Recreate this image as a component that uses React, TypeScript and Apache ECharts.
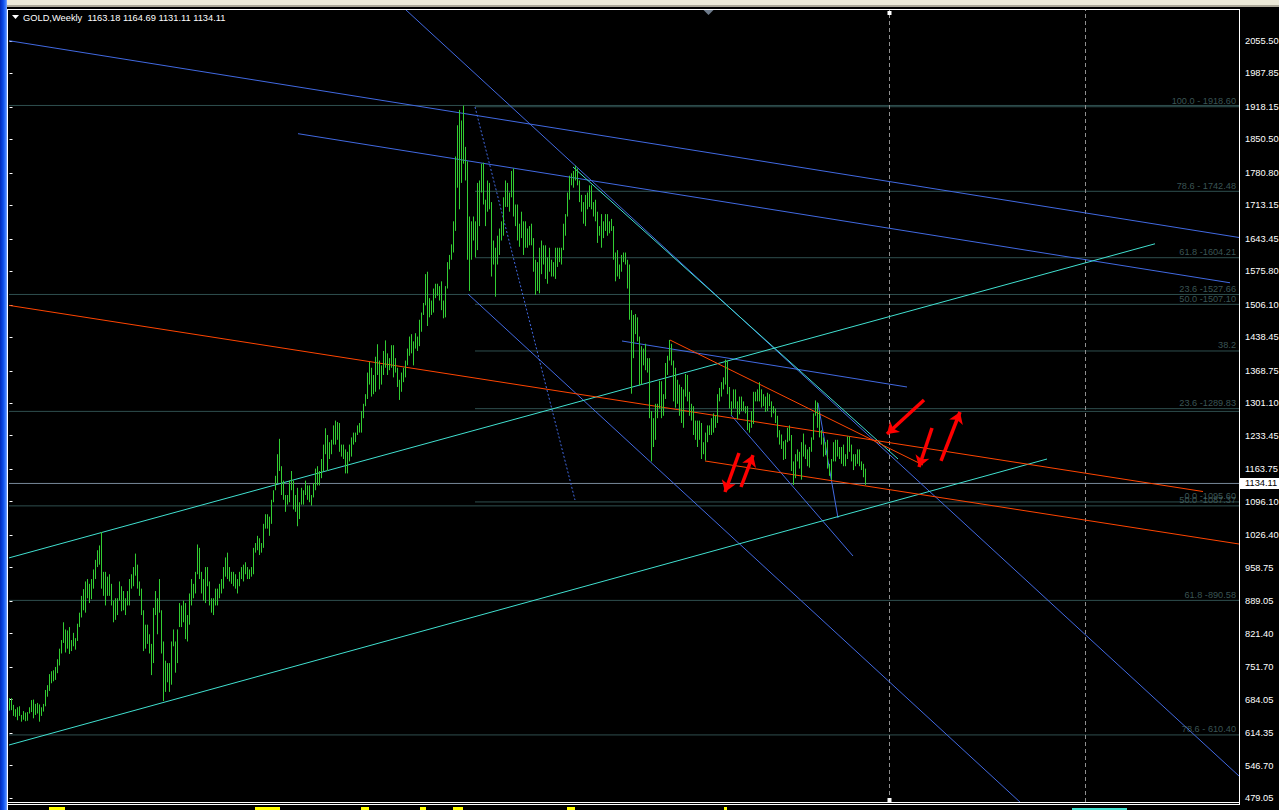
import React, { useEffect, useRef } from "react";
import * as echarts from "echarts";

// GOLD weekly bars: index 0 = week of 2007-04-30 ... index 428 = week of 2015-07-13
const highs: number[] = [
  687, 687, 673, 664, 668, 670, 652, 660, 657, 658, 668, 683, 684, 675, 677, 674, 668, 675, 704, 714, 737, 743, 745, 752, 768, 790, 808, 845, 830, 828, 835, 808, 823, 812, 842,
  865, 900, 914, 930, 935, 925, 935, 955, 975, 995, 1005, 1033, 950, 950, 940, 945, 925, 890, 895, 895, 930, 920, 910, 895, 910, 935, 945, 960, 988, 965, 930, 915, 870, 840, 840, 820, 800, 875, 910, 895, 935, 870, 805, 765, 760, 760, 805, 830, 805, 830, 885, 880, 890,
  885, 860, 905, 935, 925, 950, 1007, 1000, 950, 935, 960, 960, 930, 895, 895, 915, 915, 925, 935, 960, 980, 990, 960, 950, 950, 945, 935, 950, 960, 965, 970, 960, 955, 960, 1000, 1010, 1025, 1020, 1010, 1050, 1070, 1070, 1065, 1100, 1120, 1150, 1195, 1227, 1170, 1140, 1110, 1110,
  1140, 1160, 1140, 1110, 1125, 1095, 1125, 1120, 1140, 1130, 1130, 1110, 1135, 1165, 1170, 1160, 1185, 1215, 1249, 1235, 1220, 1225, 1255, 1265, 1262, 1260, 1215, 1215, 1205, 1200, 1215, 1230, 1240, 1240, 1255, 1260, 1285, 1300, 1320, 1365, 1387, 1375, 1360, 1398, 1424, 1390, 1380, 1410, 1432, 1405, 1395, 1422,
  1422, 1395, 1375, 1350, 1365, 1375, 1390, 1415, 1440, 1445, 1430, 1447, 1440, 1475, 1490, 1510, 1570, 1575, 1520, 1515, 1540, 1550, 1550, 1545, 1555, 1515, 1545, 1595, 1610, 1632, 1680, 1815, 1880, 1912, 1890, 1921, 1835, 1805, 1690, 1680, 1690, 1680, 1760, 1765, 1800, 1802, 1725, 1765, 1760, 1720, 1640, 1625,
  1650, 1665, 1680, 1730, 1765, 1760, 1740, 1785, 1790, 1715, 1715, 1675, 1700, 1680, 1680, 1665, 1670, 1675, 1645, 1600, 1595, 1625, 1640, 1630, 1630, 1605, 1625, 1600, 1595, 1625, 1625, 1625, 1625, 1675, 1695, 1740, 1775, 1780, 1785, 1796, 1790, 1765, 1735, 1720, 1735, 1740, 1755, 1755, 1720, 1725, 1700, 1670,
  1695, 1680, 1695, 1695, 1680, 1685, 1670, 1615, 1620, 1590, 1610, 1615, 1615, 1600, 1590, 1495, 1485, 1487, 1480, 1440, 1420, 1415, 1425, 1395, 1395, 1285, 1270, 1300, 1300, 1348, 1347, 1320, 1385, 1400, 1433, 1425, 1390, 1375, 1350, 1340, 1335, 1330, 1362, 1360, 1325, 1300, 1295, 1265, 1265, 1265, 1260, 1220,
  1240, 1255, 1255, 1270, 1280, 1275, 1320, 1333, 1345, 1355, 1392, 1390, 1335, 1305, 1330, 1330, 1305, 1315, 1315, 1305, 1295, 1295, 1260, 1285, 1325, 1325, 1330, 1345, 1330, 1320, 1315, 1323, 1320, 1305, 1295, 1290, 1275, 1245, 1236, 1222, 1225, 1250, 1255, 1235, 1180, 1195, 1205, 1200, 1220, 1238, 1215, 1205, 1210,
  1230, 1280, 1307, 1303, 1285, 1245, 1230, 1220, 1225, 1175, 1185, 1220, 1225, 1225, 1210, 1210, 1215, 1195, 1232, 1232, 1215, 1195, 1195, 1205, 1205, 1180, 1175, 1165,
];
const lows: number[] = [
  661, 662, 650, 648, 641, 650, 638, 642, 639, 640, 655, 658, 645, 652, 655, 638, 650, 659, 670, 690, 702, 718, 722, 725, 739, 755, 780, 802, 782, 790, 779, 785, 795, 788, 806,
  835, 855, 870, 865, 895, 885, 893, 915, 935, 960, 965, 915, 900, 880, 900, 900, 880, 845, 850, 860, 890, 868, 870, 860, 880, 880, 915, 920, 942, 915, 900, 860, 785, 790, 800, 780, 735, 760, 860, 820, 865, 780, 681, 700, 720, 700, 715, 795, 740, 760, 835, 835, 845,
  810, 805, 840, 880, 895, 905, 945, 935, 905, 890, 885, 920, 880, 865, 860, 880, 880, 895, 905, 915, 940, 935, 930, 925, 920, 915, 905, 920, 935, 930, 945, 935, 935, 940, 945, 990, 995, 985, 990, 1000, 1040, 1040, 1025, 1050, 1095, 1120, 1135, 1160, 1110, 1100, 1075, 1090,
  1095, 1120, 1080, 1075, 1045, 1060, 1090, 1090, 1110, 1100, 1095, 1088, 1105, 1120, 1130, 1130, 1145, 1160, 1195, 1160, 1185, 1195, 1215, 1215, 1225, 1200, 1190, 1185, 1155, 1155, 1180, 1190, 1215, 1220, 1235, 1240, 1240, 1270, 1295, 1310, 1340, 1315, 1320, 1325, 1360, 1330, 1340, 1360, 1375, 1360, 1370, 1375,
  1355, 1365, 1335, 1308, 1325, 1345, 1355, 1380, 1400, 1405, 1380, 1415, 1410, 1420, 1450, 1485, 1505, 1462, 1480, 1485, 1490, 1520, 1525, 1515, 1495, 1478, 1480, 1540, 1580, 1600, 1615, 1660, 1750, 1705, 1760, 1800, 1765, 1600, 1535, 1600, 1640, 1605, 1620, 1670, 1740, 1715, 1670, 1700, 1705, 1565, 1590, 1523,
  1590, 1610, 1640, 1650, 1710, 1710, 1700, 1730, 1690, 1670, 1640, 1627, 1645, 1610, 1625, 1625, 1630, 1630, 1575, 1527, 1535, 1530, 1570, 1590, 1560, 1550, 1575, 1565, 1565, 1560, 1585, 1595, 1590, 1620, 1650, 1690, 1725, 1755, 1750, 1765, 1755, 1720, 1700, 1675, 1670, 1705, 1710, 1705, 1690, 1680, 1635, 1650,
  1625, 1645, 1660, 1650, 1655, 1660, 1600, 1555, 1565, 1560, 1575, 1595, 1590, 1540, 1475, 1321, 1395, 1445, 1430, 1338, 1340, 1380, 1370, 1365, 1270, 1180, 1210, 1225, 1270, 1290, 1270, 1275, 1310, 1360, 1390, 1380, 1305, 1292, 1300, 1275, 1260, 1250, 1315, 1305, 1275, 1265, 1235, 1225, 1210, 1225, 1185, 1195,
  1182, 1220, 1235, 1235, 1240, 1250, 1260, 1305, 1315, 1330, 1340, 1320, 1290, 1277, 1290, 1290, 1268, 1278, 1285, 1285, 1280, 1245, 1240, 1250, 1258, 1305, 1305, 1305, 1292, 1295, 1283, 1285, 1295, 1272, 1280, 1260, 1230, 1215, 1206, 1183, 1185, 1220, 1223, 1160, 1131, 1145, 1180, 1165, 1142, 1190, 1185, 1170, 1167,
  1200, 1225, 1275, 1250, 1230, 1215, 1190, 1193, 1165, 1150, 1142, 1180, 1180, 1190, 1185, 1175, 1170, 1170, 1185, 1200, 1180, 1162, 1170, 1175, 1170, 1162, 1147, 1131,
];

const lastBar = { open: 1163.18, high: 1164.69, low: 1131.11, close: 1134.11 };

const priceTicks = [
  2055.5, 1987.85, 1918.15, 1850.5, 1780.8, 1713.15, 1643.45, 1575.8, 1506.1, 1438.45, 1368.75, 1301.1,
  1233.45, 1163.75, 1096.1, 1026.4, 958.75, 889.05, 821.4, 751.7, 684.05, 614.35, 546.7, 479.05,
];

// Fibonacci set B (0.0 = 1095.60 .. 100.0 = 1918.60), drawn from its anchor bar to the right
const fibBPrices = [1095.6, 1289.83, 1409.99, 1507.1, 1604.21, 1742.48, 1918.6];
const fibBLabels = ["0.0 -1095.60", "23.6 -1289.83", "38.2", "50.0 -1507.10", "61.8 -1604.21", "78.6 - 1742.48", "100.0 - 1918.60"];
const fibBStart = 232.75;
// Fibonacci set A (full width)
const fibAPrices = [1921.25, 1527.66, 1284.17, 1087.37, 890.58, 610.4];
const fibALabels = ["", "23.6 -1527.66", "", "50.0 -1087.37", "61.8 -890.58", "78.6 - 610.40"];

// trend lines: [barIndex1, price1, barIndex2, price2]
const blueLines = [
  [-0.25, 2056.1, 614.75, 1646.3],
  [144.25, 1862.5, 610.25, 1552.0],
  [306.25, 1430.75, 448.75, 1334.95],
  [198.25, 2120.06, 614.75, 524.86],
  [229.25, 1528.6, 505.75, 468.6],
  [360.75, 1276.6, 421.75, 983.0],
  [404.25, 1301.6, 414.25, 1062.1],
];
const blueDotted = [[232.75, 1918.1, 282.75, 1099.6]];
const turquoiseLines = [
  [-0.25, 979.1, 572.75, 1633.2],
  [-0.25, 589.4, 518.75, 1185.0],
  [281.75, 1793.1, 444.25, 1185.0],
];
const orangeLines = [
  [-0.25, 1504.9, 596.75, 1117.3],
  [347.75, 1180.9, 614.75, 1008.0],
  [330.25, 1432.8, 456.75, 1172.5],
];
const redArrows = [
  [457.25, 1307.9, 438.75, 1237.1],
  [461.25, 1249.6, 454.75, 1168.4],
  [465.75, 1180.9, 475.25, 1282.9],
  [364.75, 1197.5, 357.75, 1116.3],
  [365.75, 1126.7, 371.75, 1193.3],
];
const verticalLines = [440, 538];

const X_MIN = -0.25;
const X_MAX = 614.75;
const Y_MAX = 2120.06;
const Y_MIN = 470.72;

const FONT = '"Liberation Sans", Arial, sans-serif';

function seg(r: number[], color: string, type: any = "solid", z = 2) {
  return {
    type: "line",
    data: [
      [r[0], r[1]],
      [r[2], r[3]],
    ],
    showSymbol: false,
    symbol: "none",
    silent: true,
    clip: true,
    z,
    lineStyle: { color, width: 1, type },
  };
}

export default function App() {
  const ref = useRef<HTMLDivElement>(null);
  useEffect(() => {
    const chart = echarts.init(ref.current!, null, { renderer: "svg", width: 1279, height: 810 });
    const series: any[] = [];

    fibAPrices.forEach((p) => series.push(seg([X_MIN, p, X_MAX, p], "#2F4F4F", "solid", 1)));
    fibBPrices.forEach((p) => series.push(seg([fibBStart, p, X_MAX, p], "#2F4F4F", "solid", 1)));
    series.push(seg([X_MIN, lastBar.close, X_MAX, lastBar.close], "#778899", "solid", 1));
    verticalLines.forEach((v) => series.push(seg([v, Y_MIN, v, Y_MAX], "#8F8F8F", [4, 3], 1)));

    const labelItems: any[] = [];
    fibAPrices.forEach((p, i) => {
      if (fibALabels[i]) labelItems.push({ value: [614, p], label: { formatter: fibALabels[i] } });
    });
    fibBPrices.forEach((p, i) => {
      if (fibBLabels[i]) labelItems.push({ value: [614, p], label: { formatter: fibBLabels[i] } });
    });
    series.push({
      type: "scatter",
      data: labelItems,
      symbolSize: 1,
      silent: true,
      itemStyle: { color: "rgba(0,0,0,0)" },
      label: {
        show: true,
        position: "left",
        distance: 1,
        offset: [0, -5.5],
        color: "#4A6B6B",
        fontSize: 9.2,
        fontFamily: FONT,
      },
      z: 3,
    });

    blueLines.forEach((r) => series.push(seg(r, "#4169E1")));
    blueDotted.forEach((r) => series.push(seg(r, "#4169E1", [2, 2])));
    turquoiseLines.forEach((r) => series.push(seg(r, "#40E0D0")));
    orangeLines.forEach((r) => series.push(seg(r, "#FF4500")));

    series.push({
      type: "custom",
      silent: true,
      z: 5,
      data: highs.map((h, i) => [i, lows[i], h]),
      encode: { x: 0, y: [1, 2] },
      renderItem: (_params: any, api: any) => {
        const a = api.coord([api.value(0), api.value(1)]);
        const b = api.coord([api.value(0), api.value(2)]);
        return {
          type: "line",
          shape: { x1: a[0], y1: a[1], x2: b[0], y2: b[1] },
          style: { stroke: "#32CD32", lineWidth: 1 },
        };
      },
    });

    series.push({
      type: "lines",
      coordinateSystem: "cartesian2d",
      silent: true,
      z: 10,
      symbol: ["none", "arrow"],
      symbolSize: 11,
      lineStyle: { color: "#FF0000", width: 3.5, opacity: 1, curveness: 0 },
      data: redArrows.map((r) => ({ coords: [[r[0], r[1]], [r[2], r[3]]] })),
    });

    chart.setOption({
      animation: false,
      backgroundColor: "#000000",
      grid: { left: 9, top: 10, width: 1230, height: 792, containLabel: false, outerBoundsMode: "none" },
      xAxis: { type: "value", min: X_MIN, max: X_MAX, show: false },
      yAxis: {
        type: "value",
        position: "right",
        min: Y_MIN,
        max: Y_MAX,
        splitLine: { show: false },
        axisLine: { show: false },
        axisTick: { show: true, length: 3, lineStyle: { color: "#FFFFFF" }, customValues: priceTicks },
        axisLabel: {
          show: true,
          customValues: priceTicks,
          margin: 6,
          color: "#FFFFFF",
          fontSize: 9.3,
          fontFamily: FONT,
          formatter: (v: number) => v.toFixed(2),
        },
      },
      series,
    });

    const py = chart.convertToPixel({ yAxisIndex: 0 }, lastBar.close) as number;
    const vx = verticalLines.map((v) => chart.convertToPixel({ xAxisIndex: 0 }, v) as number);
    const yellow = [
      [49, 16],
      [255, 25],
      [361, 8],
      [420, 6],
      [453, 10],
      [567, 8],
      [724, 3],
    ];

    chart.setOption({
      graphic: [
        { type: "rect", shape: { x: 0, y: 0, width: 1279, height: 5 }, style: { fill: "#ECE9D8" }, z: 100 },
        { type: "rect", shape: { x: 0, y: 5, width: 1279, height: 2 }, style: { fill: "#ACA899" }, z: 100 },
        {
          type: "rect",
          shape: { x: 0, y: 0, width: 7, height: 810 },
          style: {
            fill: new echarts.graphic.LinearGradient(0, 0, 1, 0, [
              { offset: 0, color: "#0029B8" },
              { offset: 0.45, color: "#0A4BE8" },
              { offset: 0.8, color: "#3B7BFF" },
              { offset: 1, color: "#7FA8FF" },
            ]),
          },
          z: 100,
        },
        // frame
        { type: "line", shape: { x1: 7, y1: 9.5, x2: 1240, y2: 9.5 }, style: { stroke: "#FFFFFF", lineWidth: 1 }, z: 100 },
        { type: "line", shape: { x1: 7.5, y1: 9, x2: 7.5, y2: 810 }, style: { stroke: "#FFFFFF", lineWidth: 1 }, z: 100 },
        { type: "line", shape: { x1: 1239.5, y1: 9, x2: 1239.5, y2: 805 }, style: { stroke: "#FFFFFF", lineWidth: 1 }, z: 100 },
        { type: "line", shape: { x1: 7, y1: 802.5, x2: 1240, y2: 802.5 }, style: { stroke: "#FFFFFF", lineWidth: 1 }, z: 100 },
        { type: "line", shape: { x1: 7, y1: 804.5, x2: 1240, y2: 804.5 }, style: { stroke: "#FFFFFF", lineWidth: 1 }, z: 100 },
        // title
        { type: "polygon", shape: { points: [[12, 15], [19, 15], [15.5, 19]] }, style: { fill: "#FFFFFF" }, z: 100 },
        {
          type: "text",
          x: 23,
          y: 17.5,
          style: {
            text: `GOLD,Weekly  ${lastBar.open.toFixed(2)} ${lastBar.high.toFixed(2)} ${lastBar.low.toFixed(2)} ${lastBar.close.toFixed(2)}`,
            fill: "#FFFFFF",
            font: `9.3px ${FONT}`,
            verticalAlign: "middle",
          },
          z: 100,
        },
        // chart shift marker
        { type: "polygon", shape: { points: [[703.5, 10], [713.5, 10], [708.5, 15]] }, style: { fill: "#6E7B8B" }, z: 100 },
        // vertical line anchors
        { type: "rect", shape: { x: vx[0] - 2, y: 11, width: 4, height: 4 }, style: { fill: "#FFFFFF" }, z: 100 },
        { type: "rect", shape: { x: vx[0] - 2, y: 798, width: 4, height: 4 }, style: { fill: "#FFFFFF" }, z: 100 },
        // last price tag
        { type: "rect", shape: { x: 1240, y: py - 5.5, width: 39, height: 11 }, style: { fill: "#FFFFFF" }, z: 100 },
        {
          type: "text",
          x: 1245,
          y: py,
          style: { text: lastBar.close.toFixed(2), fill: "#000000", font: `9.3px ${FONT}`, verticalAlign: "middle" },
          z: 101,
        },
        // lower window fragments
        ...yellow.map((b) => ({
          type: "rect",
          shape: { x: b[0], y: 807, width: b[1], height: 3 },
          style: { fill: "#FFFF00" },
          z: 100,
        })),
        { type: "rect", shape: { x: 1072, y: 808, width: 55, height: 2 }, style: { fill: "#40E0D0" }, z: 100 },
      ],
    });

    return () => chart.dispose();
  }, []);
  return (
    <div
      ref={ref}
      style={{ position: "fixed", left: 0, top: 0, width: 1279, height: 810, background: "#000000" }}
    />
  );
}
